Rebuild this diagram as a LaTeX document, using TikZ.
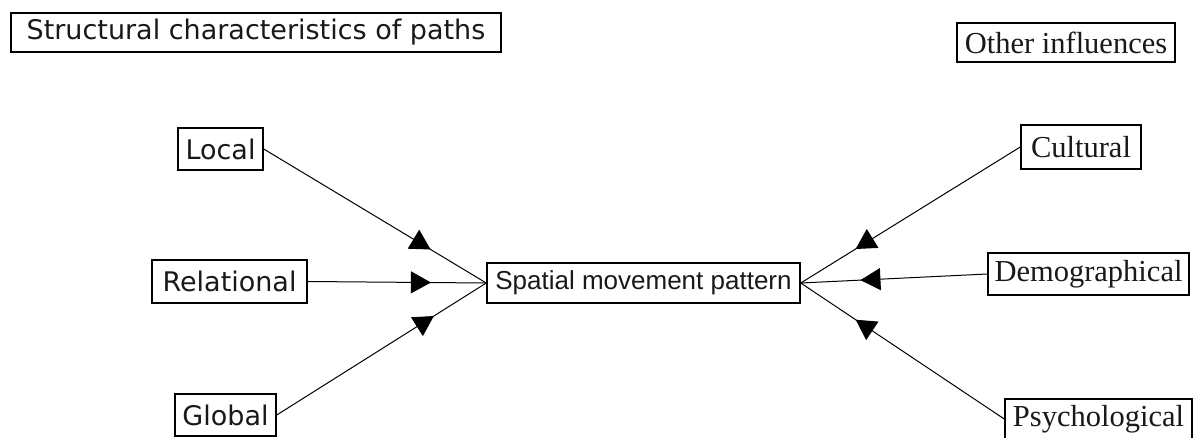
\documentclass[tikz,border=0pt]{standalone}
\usepackage{fontspec}
\usetikzlibrary{arrows.meta,decorations.markings}
\newfontfamily\tahomaish{DejaVu Sans}
\newfontfamily\arialish{Liberation Sans}
\newfontfamily\timesish{Liberation Serif}
\tikzset{
  box/.style={draw=black, line width=1.5pt, fill=white, inner sep=0pt, anchor=center, text=black!90},
  tbox/.style={box, font=\tahomaish\fontsize{27}{30}\selectfont},
  sbox/.style={box, font=\timesish\fontsize{30.5}{33}\selectfont},
  abox/.style={box, font=\arialish\fontsize{26}{29}\selectfont},
  link/.style={draw=black, line width=1pt},
  midarrow/.style={link, postaction={decorate, decoration={markings,
      mark=at position #1 with {\arrow{Triangle[length=20pt,width=22pt]}}}}}
}
\begin{document}
\begin{tikzpicture}[x=1pt,y=-1pt]
\useasboundingbox[fill=white] (0,0) rectangle (1203,437);
\node[tbox, minimum width=490pt, minimum height=39pt] (title) at (256,32.5) {Structural characteristics of paths};
\node[sbox, minimum width=218pt, minimum height=39pt] (other) at (1066,42.5) {Other influences};
\node[tbox, minimum width=85pt, minimum height=42pt] (local) at (220.5,149) {Local};
\node[tbox, minimum width=155pt, minimum height=43pt] (rel) at (229.5,281.5) {Relational};
\node[tbox, minimum width=101pt, minimum height=42pt] (global) at (225.5,415) {Global};
\node[abox, minimum width=313pt, minimum height=40pt] (smp) at (643.5,283) {Spatial movement pattern};
\node[sbox, minimum width=120pt, minimum height=44pt] (cult) at (1081,147) {Cultural};
\node[sbox, minimum width=201pt, minimum height=42pt] (demo) at (1088.5,274) {Demographical};
\node[sbox, minimum width=187pt, minimum height=40pt] (psych) at (1098.5,419) {Psychological};
\path[midarrow=0.75] (local.east) -- (smp.west);
\path[midarrow=0.69] (rel.east) -- (smp.west);
\path[midarrow=0.75] (global.east) -- (smp.west);
\path[midarrow=0.75] (cult.west) -- (smp.east);
\path[midarrow=0.68] (demo.west) -- (smp.east);
\path[midarrow=0.73] (psych.west) -- (smp.east);
\end{tikzpicture}
\end{document}
